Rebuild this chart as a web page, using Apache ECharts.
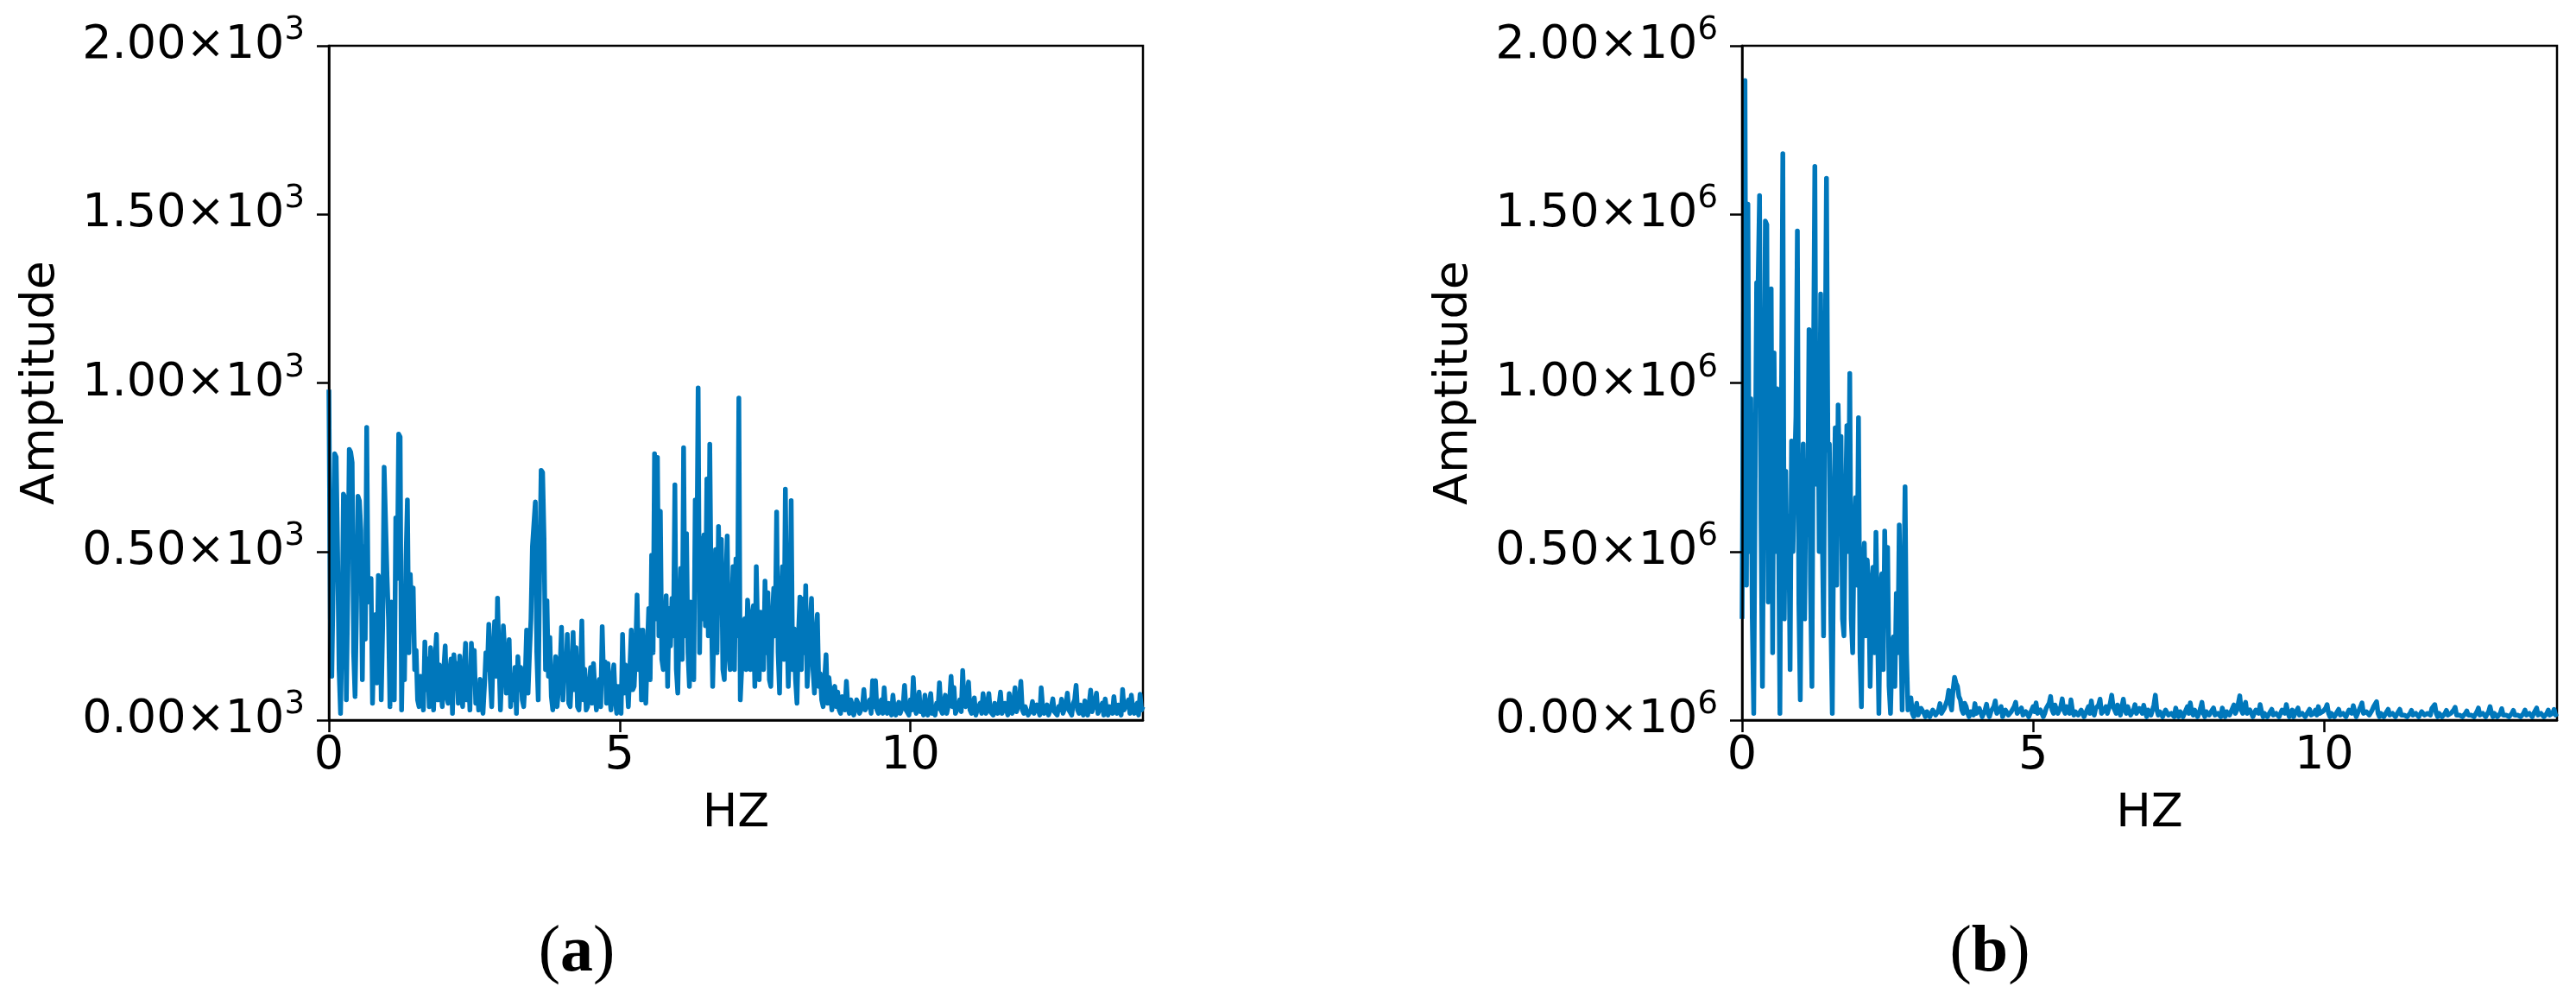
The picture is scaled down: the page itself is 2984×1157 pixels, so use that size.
<!DOCTYPE html>
<html><head><meta charset="utf-8">
<script src="https://cdn.jsdelivr.net/npm/echarts@6/dist/echarts.min.js"></script>
<style>html,body{margin:0;padding:0;background:#fff}#c{width:2984px;height:1157px}</style>
</head><body><div id="c"></div>
<script>
// Frequency bin spacing (Hz) of the spectra
const freqStepHz = 0.025;
const xTickValues = [0, 5, 10];
const xRange = [0, 14];
const yRangeA = [0, 2000];      // amplitude (a)
const yRangeB = [0, 2.0];       // amplitude (b), in units of 10^6
const panelLabels = ['a', 'b'];
const xAxisTitle = 'HZ';
const yAxisTitle = 'Amptitude';

// Panel (a) amplitude spectrum (raw units), 0 .. 14 Hz
const ampA = [
  980,300, 130,420, 790,780, 497,150, 20,250, 670,660, 60,380, 803,795, 764,200, 70,330,
  664,650, 563,120, 515,240, 868,350, 380,420, 50,260, 313,110, 429,400, 60,280, 750,745,
  425,300, 40,350, 251,60, 600,420, 848,840, 30,300, 120,470, 653,200, 432,300, 392,150,
  207,60, 40,130, 110,30, 232,90, 181,40, 215,120, 30,180, 254,60, 164,100, 40,150,
  220,70, 50,140, 181,20, 194,110, 168,50, 190,100, 40,150, 228,60, 147,30, 228,120,
  207,50, 104,30, 121,60, 20,100, 200,150, 284,120, 40,200, 292,130, 362,180, 30,150,
  280,200, 80,150, 239,40, 134,60, 156,20, 188,90, 156,60, 40,120, 267,80, 198,300,
  515,510, 647,200, 60,450, 741,735, 540,150, 354,130, 245,70, 30,100, 188,40, 40,150,
  275,60, 185,120, 254,50, 40,140, 260,90, 215,40, 30,120, 294,60, 151,30, 40,100,
  156,50, 168,90, 30,70, 121,40, 277,120, 173,50, 168,80, 30,120, 164,60, 20,100,
  60,20, 254,80, 164,120, 40,150, 267,90, 100,200, 371,150, 267,60, 267,140, 50,200,
  331,120, 489,200, 790,300, 779,250, 619,180, 150,250, 369,100, 331,220, 361,250, 698,150,
  80,300, 450,180, 808,250, 553,200, 100,350, 300,120, 653,400, 985,200, 540,300, 549,280,
  715,250, 818,350, 100,300, 506,200, 574,350, 536,150, 120,400, 546,200, 150,300, 455,150,
  478,250, 955,60, 60,250, 301,150, 356,280, 150,300, 339,100, 455,250, 120,320, 200,150,
  412,200, 378,120, 100,300, 391,250, 617,200, 80,350, 455,180, 685,300, 100,250, 651,150,
  271,120, 50,250, 365,150, 359,200, 399,100, 100,280, 361,150, 80,250, 314,100, 138,60,
  40,120, 194,50, 126,80, 30,90, 100,40, 83,30, 20,70, 60,30, 115,40, 20,60,
  44,15, 30,60, 50,20, 20,40, 91,30, 30,50, 60,20, 117,40, 117,30, 20,50,
  60,20, 96,30, 20,50, 40,15, 74,30, 15,40, 53,20, 20,45, 103,30, 30,15,
  60,30, 126,40, 20,50, 83,25, 40,15, 74,30, 15,45, 79,20, 30,15, 50,35,
  111,30, 20,45, 74,20, 40,60, 130,40, 97,20, 20,40, 60,25, 147,50, 40,70,
  113,30, 20,40, 66,15, 30,40, 50,20, 79,35, 20,50, 79,25, 30,15, 50,35,
  20,45, 83,20, 30,50, 50,15, 79,30, 20,55, 96,25, 40,60, 115,30, 20,40,
  40,15, 15,30, 55,20, 30,45, 50,15, 96,40, 20,30, 45,15, 15,40, 63,25,
  30,15, 40,30, 62,20, 20,45, 80,30, 30,15, 50,60, 103,30, 20,45, 40,15,
  57,30, 15,50, 89,25, 30,55, 80,20, 20,40, 50,15, 63,30, 15,40, 45,20,
  70,30, 20,45, 40,15, 91,30, 30,50, 60,20, 74,35, 20,40, 50,15, 77,30,
  40
];

// Panel (b) amplitude spectrum (units of 10^6), 0 .. 14 Hz
const ampB = [
  0.30,1.20, 1.897,0.40, 1.53,0.50, 0.953,0.30, 0.02,0.70, 1.297,1.29, 1.556,0.60, 0.10,0.80, 1.48,1.47, 0.35,0.75,
  1.279,0.20, 1.089,0.50, 0.983,0.60, 0.02,0.90, 1.68,0.30, 0.738,0.40, 0.605,0.15, 0.828,0.50, 0.725,0.90, 1.451,0.35,
  0.06,0.60, 0.819,0.30, 0.77,0.55, 1.158,0.40, 0.10,1.00, 1.642,0.70, 1.106,0.50, 1.264,0.60, 0.25,1.00, 1.607,0.80,
  0.819,0.30, 0.02,0.60, 0.867,0.40, 0.935,0.70, 0.841,0.30, 0.25,0.60, 0.873,0.50, 1.028,0.30, 0.20,0.55, 0.66,0.40,
  0.897,0.20, 0.04,0.45, 0.525,0.25, 0.475,0.40, 0.10,0.35, 0.453,0.20, 0.557,0.30, 0.02,0.38, 0.434,0.15, 0.561,0.30,
  0.512,0.10, 0.02,0.20, 0.247,0.10, 0.376,0.20, 0.579,0.30, 0.03,0.35, 0.692,0.20, 0.03,0.05,
  0.066,0.02, 0.01,0.03, 0.05,0.015, 0.02,0.035, 0.04,0.02, 0.01,0.025, 0.03,0.01, 0.02,0.03, 0.034,0.015, 0.01,0.03,
  0.049,0.02, 0.02,0.035, 0.04,0.06, 0.088,0.05, 0.03,0.09, 0.127,0.11, 0.10,0.07, 0.06,0.03, 0.02,0.05, 0.04,0.02,
  0.01,0.025, 0.03,0.015, 0.049,0.02, 0.015,0.035, 0.04,0.01, 0.02,0.03, 0.047,0.02, 0.01,0.025, 0.03,0.04, 0.057,0.02,
  0.015,0.03, 0.04,0.01, 0.02,0.03, 0.034,0.015, 0.01,0.025, 0.03,0.04, 0.053,0.02, 0.015,0.03, 0.036,0.015, 0.01,0.025,
  0.03,0.01, 0.02,0.03, 0.04,0.025, 0.051,0.02, 0.015,0.03, 0.03,0.01, 0.02,0.035, 0.04,0.05, 0.07,0.03, 0.02,0.045,
  0.04,0.02, 0.015,0.04, 0.063,0.03, 0.02,0.04, 0.035,0.02, 0.06,0.03, 0.015,0.025, 0.03,0.015, 0.01,0.03, 0.032,0.01,
  0.02,0.03, 0.04,0.02, 0.057,0.025, 0.015,0.035, 0.03,0.045, 0.062,0.02, 0.02,0.03, 0.04,0.02, 0.015,0.05, 0.074,0.04,
  0.03,0.02, 0.045,0.03, 0.015,0.04, 0.062,0.03, 0.02,0.04, 0.035,0.015, 0.01,0.03, 0.046,0.02, 0.02,0.035, 0.03,0.02,
  0.044,0.025, 0.01,0.03, 0.03,0.015, 0.02,0.045, 0.074,0.03, 0.015,0.025, 0.03,0.01, 0.02,0.03, 0.032,0.015, 0.01,0.02,
  0.025,0.01, 0.036,0.02, 0.01,0.025, 0.03,0.01, 0.02,0.03, 0.04,0.02, 0.051,0.025, 0.015,0.03, 0.03,0.01, 0.02,0.035,
  0.053,0.02, 0.01,0.025, 0.03,0.015, 0.02,0.03, 0.036,0.015, 0.01,0.02, 0.025,0.01, 0.036,0.02, 0.01,0.025, 0.03,0.015,
  0.02,0.035, 0.045,0.02, 0.03,0.05, 0.072,0.03, 0.02,0.04, 0.053,0.02, 0.015,0.03, 0.03,0.01, 0.02,0.03, 0.035,0.02,
  0.046,0.025, 0.01,0.02, 0.025,0.01, 0.015,0.025, 0.032,0.015, 0.01,0.02, 0.025,0.01, 0.02,0.03, 0.035,0.02, 0.046,0.025,
  0.01,0.02, 0.03,0.01, 0.02,0.025, 0.036,0.015, 0.01,0.02, 0.025,0.01, 0.015,0.025, 0.032,0.015, 0.01,0.02, 0.03,0.015,
  0.04,0.02, 0.015,0.025, 0.03,0.035, 0.046,0.02, 0.01,0.02, 0.025,0.01, 0.015,0.025, 0.032,0.015, 0.01,0.02, 0.025,0.01,
  0.02,0.03, 0.035,0.02, 0.043,0.025, 0.01,0.02, 0.03,0.04, 0.051,0.02, 0.015,0.025, 0.03,0.015, 0.02,0.03, 0.04,0.045,
  0.055,0.02, 0.01,0.02, 0.025,0.01, 0.015,0.025, 0.032,0.015, 0.01,0.02, 0.025,0.01, 0.015,0.025, 0.032,0.015, 0.01,0.015,
  0.02,0.01, 0.015,0.02, 0.029,0.015, 0.01,0.02, 0.025,0.01, 0.015,0.025, 0.03,0.015, 0.01,0.02, 0.025,0.015, 0.035,0.03,
  0.046,0.02, 0.01,0.02, 0.025,0.01, 0.015,0.02, 0.029,0.015, 0.01,0.02, 0.025,0.03, 0.038,0.015, 0.01,0.015, 0.02,0.01,
  0.015,0.02, 0.027,0.015, 0.01,0.015, 0.02,0.01, 0.015,0.025, 0.036,0.015, 0.01,0.02, 0.025,0.01, 0.015,0.025, 0.04,0.02,
  0.01,0.02, 0.025,0.01, 0.015,0.02, 0.034,0.015, 0.01,0.015, 0.02,0.01, 0.015,0.02, 0.029,0.015, 0.01,0.015, 0.02,0.01,
  0.015,0.02, 0.03,0.015, 0.01,0.02, 0.025,0.01, 0.02,0.025, 0.036,0.015, 0.01,0.02, 0.025,0.01, 0.015,0.02, 0.03,0.015,
  0.01,0.02, 0.032,0.015, 0.02
];

const FONT = 'DejaVu Sans';
const LINE_COLOR = '#0077bb';
const pairs = arr => arr.map((v, i) => [i * freqStepHz, v]);

function supLabel(expo, scale) {
  return v => '{m|' + (v / scale).toFixed(2) + '×10}{s|' + expo + '}';
}
const richSup = {
  m: { fontFamily: FONT, fontSize: 54, lineHeight: 72, color: '#000' },
  s: { fontFamily: FONT, fontSize: 37, lineHeight: 37, verticalAlign: 'top', color: '#000' }
};

function makeX(gi) {
  return {
    gridIndex: gi, type: 'value', min: xRange[0], max: xRange[1], interval: 5,
    position: 'bottom', z: 10,
    axisLine: { show: true, onZero: false, lineStyle: { color: '#000', width: 2.5 } },
    axisTick: { show: true, length: 14, inside: false, customValues: xTickValues,
      lineStyle: { color: '#000', width: 2.5 } },
    axisLabel: { customValues: xTickValues, fontFamily: FONT, fontSize: 54, color: '#000', margin: 15 },
    splitLine: { show: false },
    name: xAxisTitle, nameLocation: 'middle', nameGap: 82,
    nameTextStyle: { fontFamily: FONT, fontSize: 54, color: '#000' }
  };
}
function makeY(gi, range, formatter) {
  return {
    gridIndex: gi, type: 'value', min: range[0], max: range[1], interval: (range[1] - range[0]) / 4,
    position: 'left', z: 10,
    axisLine: { show: true, onZero: false, lineStyle: { color: '#000', width: 2.5 } },
    axisTick: { show: true, length: 14, inside: false, lineStyle: { color: '#000', width: 2.5 } },
    axisLabel: { formatter: formatter, rich: richSup, margin: 28, color: '#000' },
    splitLine: { show: false },
    name: yAxisTitle, nameLocation: 'middle', nameGap: 306, nameRotate: 90,
    nameTextStyle: { fontFamily: FONT, fontSize: 54, color: '#000' }
  };
}

const panelRich = {
  p: { fontFamily: 'Liberation Serif', fontSize: 76, fill: '#000' },
  b: { fontFamily: 'Liberation Serif', fontSize: 76, fontWeight: 'bold', fill: '#000' }
};

const chart = echarts.init(document.getElementById('c'), null, { renderer: 'canvas' });
chart.setOption({
  animation: false,
  backgroundColor: '#fff',
  grid: [
    { left: 381, top: 53, width: 943, height: 781, show: true, borderColor: '#000', borderWidth: 2.5, backgroundColor: 'transparent' },
    { left: 2018, top: 53, width: 944, height: 781, show: true, borderColor: '#000', borderWidth: 2.5, backgroundColor: 'transparent' }
  ],
  xAxis: [makeX(0), makeX(1)],
  yAxis: [makeY(0, yRangeA, supLabel(3, 1000)), makeY(1, yRangeB, supLabel(6, 1))],
  series: [
    { type: 'line', xAxisIndex: 0, yAxisIndex: 0, data: pairs(ampA), showSymbol: false, sampling: null,
      lineStyle: { color: LINE_COLOR, width: 5.5, join: 'round' }, clip: true },
    { type: 'line', xAxisIndex: 1, yAxisIndex: 1, data: pairs(ampB), showSymbol: false, sampling: null,
      lineStyle: { color: LINE_COLOR, width: 5.5, join: 'round' }, clip: true }
  ],
  graphic: [
    { type: 'text', x: 668, y: 1104, style: { text: '{p|(}{b|' + panelLabels[0] + '}{p|)}', align: 'center', verticalAlign: 'middle', rich: panelRich } },
    { type: 'text', x: 2305, y: 1104, style: { text: '{p|(}{b|' + panelLabels[1] + '}{p|)}', align: 'center', verticalAlign: 'middle', rich: panelRich } }
  ]
});
</script></body></html>
